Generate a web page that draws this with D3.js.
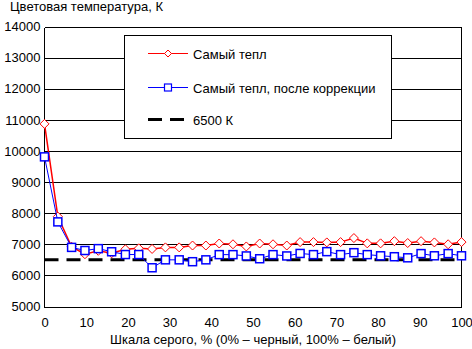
<!DOCTYPE html>
<html>
<head>
<meta charset="utf-8">
<script src="https://cdn.jsdelivr.net/npm/d3@7"></script>
<style>
  html, body { margin: 0; padding: 0; background: #fff; }
  svg { display: block; font-family: "Liberation Sans", Arial, sans-serif; }
</style>
</head>
<body>
<svg id="chart" width="472" height="349"></svg>
<script>
// ---- data ----
const grayPercent = [0, 3.2, 6.5, 9.7, 12.9, 16.1, 19.4, 22.6, 25.8, 29.0, 32.3, 35.5, 38.7, 41.9, 45.2, 48.4,
                     51.6, 54.8, 58.1, 61.3, 64.5, 67.7, 71.0, 74.2, 77.4, 80.6, 83.9, 87.1, 90.3, 93.5, 96.8, 100];
const warmest = [10870, 7890, 6920, 6680, 6790, 6710, 6840, 6870, 6850, 6900, 6900, 6960, 6960, 7025, 7000, 6930,
                 7025, 7000, 6960, 7070, 7070, 7060, 7070, 7200, 7030, 7030, 7100, 7040, 7100, 7060, 7000, 7070];
const warmestCorrected = [9810, 7720, 6900, 6800, 6860, 6760, 6670, 6670, 6245, 6500, 6500, 6440, 6500, 6667, 6667, 6625,
                          6535, 6667, 6625, 6705, 6667, 6763, 6667, 6730, 6667, 6630, 6600, 6565, 6700, 6630, 6700, 6630];
const referenceK = 6500;
const xTicks = [0, 10, 20, 30, 40, 50, 60, 70, 80, 90, 100];
const yTicks = [5000, 6000, 7000, 8000, 9000, 10000, 11000, 12000, 13000, 14000];
const seriesNames = ["Самый тепл", "Самый тепл, после коррекции", "6500 К"];
const yTitle = "Цветовая температура, К";
const xTitle = "Шкала серого, % (0% – черный, 100% – белый)";

// ---- layout ----
const FS = 13;
const svg = d3.select("#chart");
const x = d3.scaleLinear().domain([0, 100]).range([44.5, 461.5]);
const y = d3.scaleLinear().domain([5000, 14000]).range([306.5, 26.5]);
const red = "#ff0000", blue = "#0000ff";

// gridlines
svg.append("g").selectAll("line").data(yTicks).join("line")
  .attr("x1", x(0)).attr("x2", x(100))
  .attr("y1", d => Math.round(y(d)) + 0.5).attr("y2", d => Math.round(y(d)) + 0.5)
  .attr("stroke", "#000").attr("stroke-width", 1).attr("shape-rendering", "crispEdges");

// left and right border
[0, 100].forEach(v => {
  svg.append("line").attr("x1", x(v)).attr("x2", x(v))
    .attr("y1", Math.round(y(14000)) + 0.5).attr("y2", Math.round(y(5000)) + 0.5)
    .attr("stroke", "#000").attr("shape-rendering", "crispEdges");
});

// y axis labels
const yAxis = d3.axisLeft(y).tickValues(yTicks).tickSize(0).tickPadding(4).tickFormat(d3.format("d"));
const gy = svg.append("g").attr("transform", `translate(${x(0)},0)`).call(yAxis);
gy.select(".domain").remove();
gy.selectAll("text").attr("font-size", FS).attr("font-family", "Liberation Sans, Arial, sans-serif").attr("fill", "#000");

// x axis labels
const xAxis = d3.axisBottom(x).tickValues(xTicks).tickSize(0).tickPadding(11);
const gx = svg.append("g").attr("transform", `translate(0,${y(5000)})`).call(xAxis);
gx.select(".domain").remove();
gx.selectAll("text").attr("font-size", FS).attr("font-family", "Liberation Sans, Arial, sans-serif").attr("fill", "#000");

// titles
svg.append("text").attr("x", 10).attr("y", 11).attr("font-size", FS).text(yTitle);
svg.append("text").attr("x", (x(0) + x(100)) / 2).attr("y", 344).attr("text-anchor", "middle")
  .attr("font-size", FS).text(xTitle);

// reference dashed line
svg.append("line").attr("x1", x(0)).attr("x2", x(100))
  .attr("y1", y(referenceK)).attr("y2", y(referenceK))
  .attr("stroke", "#000").attr("stroke-width", 3).attr("stroke-dasharray", "14,8");

// series
const line = d3.line().x(d => x(d[0])).y(d => y(d[1]));
const redData = grayPercent.map((p, i) => [p, warmest[i]]);
const blueData = grayPercent.map((p, i) => [p, warmestCorrected[i]]);

svg.append("path").datum(redData).attr("d", line).attr("fill", "none").attr("stroke", red).attr("stroke-width", 1.5);
const diamond = (cx, cy, r) => `M${cx},${cy - r}L${cx + r},${cy}L${cx},${cy + r}L${cx - r},${cy}Z`;
svg.append("g").selectAll("path").data(redData).join("path")
  .attr("d", d => diamond(x(d[0]), y(d[1]), 4.5))
  .attr("fill", "#fff").attr("stroke", red).attr("stroke-width", 1);

svg.append("path").datum(blueData).attr("d", line).attr("fill", "none").attr("stroke", blue).attr("stroke-width", 1);
svg.append("g").selectAll("rect").data(blueData).join("rect")
  .attr("x", d => x(d[0]) - 4).attr("y", d => y(d[1]) - 4).attr("width", 8).attr("height", 8)
  .attr("fill", "#fff").attr("stroke", blue).attr("stroke-width", 1.5);

// legend
const lg = svg.append("g");
lg.append("rect").attr("x", 124.5).attr("y", 35.5).attr("width", 267).attr("height", 103)
  .attr("fill", "#fff").attr("stroke", "#000").attr("shape-rendering", "crispEdges");
const rows = [53.5, 87.5, 119.5];
// red entry
lg.append("line").attr("x1", 148).attr("x2", 188).attr("y1", rows[0]).attr("y2", rows[0]).attr("stroke", red);
lg.append("path").attr("d", diamond(168, rows[0], 3.5)).attr("fill", "#fff").attr("stroke", red);
// blue entry
lg.append("line").attr("x1", 148).attr("x2", 188).attr("y1", rows[1]).attr("y2", rows[1]).attr("stroke", blue);
lg.append("rect").attr("x", 164.5).attr("y", rows[1] - 3.5).attr("width", 7).attr("height", 7)
  .attr("fill", "#fff").attr("stroke", blue).attr("stroke-width", 1.2);
// dashed entry
lg.append("line").attr("x1", 148).attr("x2", 190).attr("y1", rows[2]).attr("y2", rows[2])
  .attr("stroke", "#000").attr("stroke-width", 3).attr("stroke-dasharray", "14,8");
lg.selectAll("text.lbl").data(seriesNames).join("text").attr("class", "lbl")
  .attr("x", 193).attr("y", (d, i) => rows[i] + 5).attr("font-size", FS).text(d => d);
</script>
</body>
</html>
